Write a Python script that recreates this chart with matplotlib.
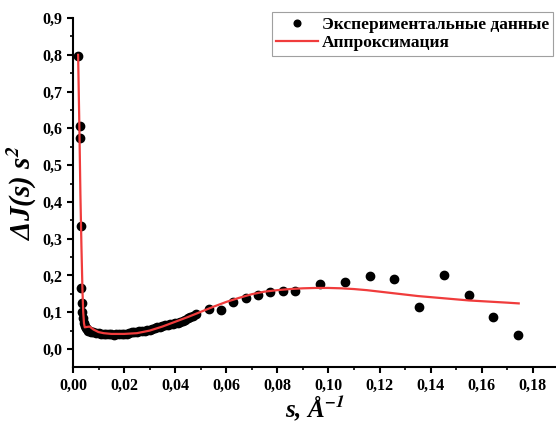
import matplotlib
matplotlib.use('Agg')
import matplotlib.pyplot as plt
from matplotlib.ticker import MultipleLocator, FuncFormatter

# experimental points (s, dJ*s^2)
exp_s = [0.0020, 0.0027, 0.0029, 0.0031, 0.0033, 0.0034, 0.0035,
         0.0040, 0.0043, 0.0046, 0.0050, 0.0055, 0.0060, 0.0065, 0.0070,
         0.0080, 0.0090, 0.0100, 0.011, 0.012, 0.013, 0.014, 0.015, 0.016,
         0.017, 0.018, 0.019, 0.020, 0.021, 0.022, 0.023, 0.024, 0.025,
         0.026, 0.027, 0.028, 0.029, 0.030, 0.031, 0.032, 0.033, 0.034,
         0.035, 0.036, 0.037, 0.038, 0.039, 0.040, 0.041, 0.042, 0.043,
         0.044, 0.045, 0.046, 0.047, 0.048,
         0.0533, 0.0579, 0.0627, 0.0677, 0.0725, 0.0773, 0.0823, 0.0871,
         0.0968, 0.1066, 0.1163, 0.1258, 0.1356, 0.1451, 0.1550, 0.1646,
         0.1743]
exp_y = [0.797, 0.607, 0.573, 0.335, 0.165, 0.124, 0.101,
         0.085, 0.072, 0.063, 0.057, 0.053, 0.050, 0.048, 0.047,
         0.045, 0.044, 0.043, 0.042, 0.041, 0.040, 0.040, 0.040, 0.039,
         0.040, 0.040, 0.041, 0.040, 0.041, 0.043, 0.046, 0.047, 0.047,
         0.048, 0.048, 0.050, 0.051, 0.052, 0.054, 0.057, 0.059, 0.060,
         0.062, 0.064, 0.066, 0.068, 0.068, 0.070, 0.072, 0.074, 0.076,
         0.080, 0.083, 0.086, 0.090, 0.095,
         0.108, 0.106, 0.129, 0.139, 0.147, 0.156, 0.158, 0.157,
         0.177, 0.183, 0.198, 0.190, 0.115, 0.201, 0.148, 0.086,
         0.038]

# approximation curve
fit_s = [0.0020, 0.0025, 0.0029, 0.0033, 0.0037, 0.0040, 0.0043, 0.0046,
         0.0055, 0.0065, 0.0080, 0.0100, 0.0120, 0.015, 0.020, 0.025,
         0.030, 0.035, 0.040, 0.045, 0.050, 0.055, 0.060, 0.065, 0.070,
         0.075, 0.080, 0.085, 0.090, 0.095, 0.100, 0.105, 0.110, 0.115,
         0.120, 0.125, 0.130, 0.135, 0.140, 0.145, 0.150, 0.155, 0.160,
         0.165, 0.170, 0.1745]
fit_y = [0.800, 0.600, 0.420, 0.280, 0.160, 0.100, 0.070, 0.059,
         0.060, 0.061, 0.053, 0.046, 0.043, 0.041, 0.041, 0.043,
         0.050, 0.061, 0.074, 0.087, 0.101, 0.115, 0.128, 0.139, 0.149,
         0.156, 0.160, 0.163, 0.165, 0.166, 0.166, 0.165, 0.163, 0.160,
         0.156, 0.152, 0.148, 0.144, 0.141, 0.138, 0.135, 0.132, 0.130,
         0.128, 0.126, 0.124]

plt.rcParams['font.family'] = ['Liberation Serif', 'DejaVu Serif']
plt.rcParams['font.weight'] = 'bold'
plt.rcParams['mathtext.fontset'] = 'stix'

fig = plt.figure(figsize=(5.56, 4.30), dpi=100)
ax = fig.add_axes([0.1313, 0.1465, 0.8687, 0.8115])

ax.plot(exp_s, exp_y, 'o', color='black', ms=6, mec='black',
        label='Экспериментальные данные', zorder=2)
ax.plot(fit_s, fit_y, '-', color='#f03c3c', lw=1.6,
        label='Аппроксимация', zorder=3)

ax.set_xlim(0, 0.1891)
ax.set_ylim(-0.049, 0.9)
ax.xaxis.set_major_locator(MultipleLocator(0.02))
ax.xaxis.set_minor_locator(MultipleLocator(0.01))
ax.yaxis.set_major_locator(MultipleLocator(0.1))
ax.yaxis.set_minor_locator(MultipleLocator(0.05))
ax.xaxis.set_major_formatter(FuncFormatter(lambda v, p: ('%.2f' % v).replace('.', ',')))
ax.yaxis.set_major_formatter(FuncFormatter(lambda v, p: ('%.1f' % v).replace('.', ',')))

for side in ['top', 'right']:
    ax.spines[side].set_visible(False)
for side in ['left', 'bottom']:
    ax.spines[side].set_linewidth(1.5)
ax.tick_params(which='major', direction='out', length=4.5, width=1.5,
               labelsize=11.5, pad=3)
ax.tick_params(which='minor', direction='out', length=2.5, width=1.2)
for lab in ax.get_xticklabels() + ax.get_yticklabels():
    lab.set_fontweight('bold')

ax.set_xlabel(r's, Å$^{\mathbfit{-1}}$', fontsize=18, fontstyle='italic',
              fontweight='bold', labelpad=0)
ax.set_ylabel(r'ΔJ(s) s$^{\mathbfit{2}}$', fontsize=21, fontstyle='italic',
              fontweight='bold', labelpad=3)

leg = ax.legend(loc='upper right', bbox_to_anchor=(0.994, 1.017),
                prop={'family': 'Liberation Serif', 'weight': 'bold', 'size': 12.5},
                frameon=True, fancybox=False, edgecolor='#888888',
                handlelength=2.4, handletextpad=0.2, borderpad=0.25,
                labelspacing=0.15, borderaxespad=0, markerscale=0.8)
leg.get_frame().set_linewidth(0.8)

fig.savefig('out.png', dpi=100)
